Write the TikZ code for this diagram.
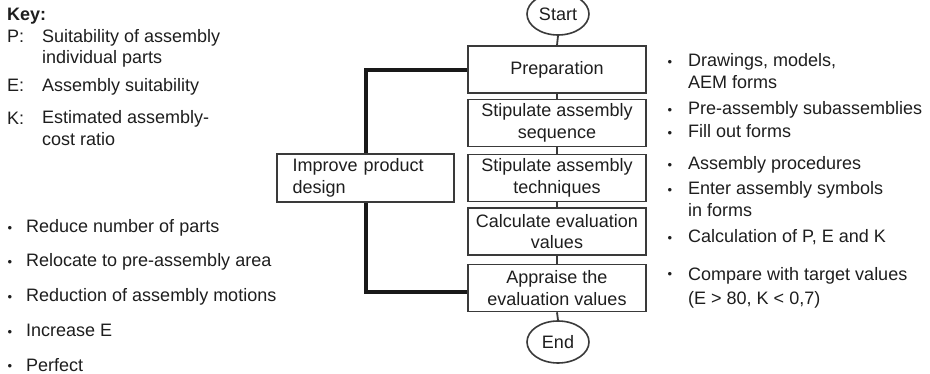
\documentclass[tikz,border=0pt]{standalone}
\usepackage{fontspec}
\setmainfont{Liberation Sans}
\usetikzlibrary{shapes.geometric}
\definecolor{ink}{HTML}{1E1E1E}
\definecolor{frame}{HTML}{3A3A3A}
\newcommand{\dotmark}{{\fontsize{13}{13}\selectfont\textbullet}}
\begin{document}
\begin{tikzpicture}[x=1pt,y=-1pt,
  every node/.style={text=ink,font=\fontsize{18}{21.5}\selectfont,inner sep=0pt},
  stepbox/.style={draw=frame,line width=1.6pt,fill=white,minimum width=178pt,minimum height=47pt,align=center},
  terminal/.style={draw=frame,line width=1.6pt,fill=white,ellipse,minimum width=62pt,minimum height=42pt},
  txt/.style={anchor=base west,align=left},
  bul/.style={anchor=base},
  link/.style={draw=frame,line width=1.8pt},
  feedback/.style={draw=black!90,line width=3.4pt}
]
\clip (0,0) rectangle (930,374);
\fill[white] (0,0) rectangle (930,374);

% main flow
\node[terminal] (start) at (558,14) {Start};
\node[stepbox] (prep) at (557,69.5) {Preparation};
\node[stepbox] (seq)  at (557,123) {Stipulate assembly\\sequence};
\node[stepbox] (tech) at (557,178) {Stipulate assembly\\techniques};
\node[stepbox] (calc) at (557,231.5) {Calculate evaluation\\values};
\node[stepbox] (appr) at (557,288) {Appraise the\\evaluation values};
\node[terminal] (end) at (558,342) {End};

\draw[link] (start.south) -- (prep.north);
\draw[link] (prep.south) -- (seq.north);
\draw[link] (seq.south) -- (tech.north);
\draw[link] (tech.south) -- (calc.north);
\draw[link] (calc.south) -- (appr.north);
\draw[link] (appr.south) -- (end.north);

% feedback loop through the redesign box
\coordinate (ltop) at (366,70);
\coordinate (lbot) at (366,292);
\draw[feedback] (prep.west |- ltop) -- (ltop) -- (lbot) -- (appr.west |- lbot);
\node[stepbox,minimum width=177pt,minimum height=48pt,align=left,text width=146pt] (improve) at (365.5,178) {Improve product\\design};

% key (multi-line nodes are placed by the baseline of their last line)
\node[txt,font=\fontsize{18}{21.5}\selectfont\bfseries] (key) at (7,21) {Key:};
\node[txt] (kp) at (7,43) {P:};
\node[txt] (kpt) at (42,64) {Suitability of assembly\\individual parts};
\node[txt] (ke) at (7,92) {E:};
\node[txt] (ket) at (42,92) {Assembly suitability};
\node[txt] (kk) at (7,125) {K:};
\node[txt] (kkt) at (42,145.5) {Estimated assembly-\\cost ratio};

% improvement measures
\foreach \y/\t [count=\i] in {233/Reduce number of parts,267/Relocate to pre-assembly area,302/Reduction of assembly motions,337/Increase E,371/Perfect}{
  \node[bul] (lb\i) at (10,\y-0.5) {\dotmark};
  \node[txt] (lt\i) at (26,\y) {\t};
}

% activities per step
\node[bul] (rb1) at (670,66.5) {\dotmark};
\node[txt] (rt1) at (688,88.5) {Drawings, models,\\AEM forms};
\node[bul] (rb2) at (670,114.5) {\dotmark};
\node[txt] (rt2) at (688,115) {Pre-assembly subassemblies};
\node[bul] (rb3) at (670,137.5) {\dotmark};
\node[txt] (rt3) at (688,138) {Fill out forms};
\node[bul] (rb4) at (670,169.5) {\dotmark};
\node[txt] (rt4) at (688,170) {Assembly procedures};
\node[bul] (rb5) at (670,194.5) {\dotmark};
\node[txt] (rt5) at (688,216.5) {Enter assembly symbols\\in forms};
\node[bul] (rb6) at (670,242.5) {\dotmark};
\node[txt] (rt6) at (688,243) {Calculation of P, E and K};
\node[bul] (rb7) at (670,278.5) {\dotmark};
\node[txt] (rt7) at (688,305) {Compare with target values\\[3pt](E > 80, K < 0,7)};
\end{tikzpicture}
\end{document}
